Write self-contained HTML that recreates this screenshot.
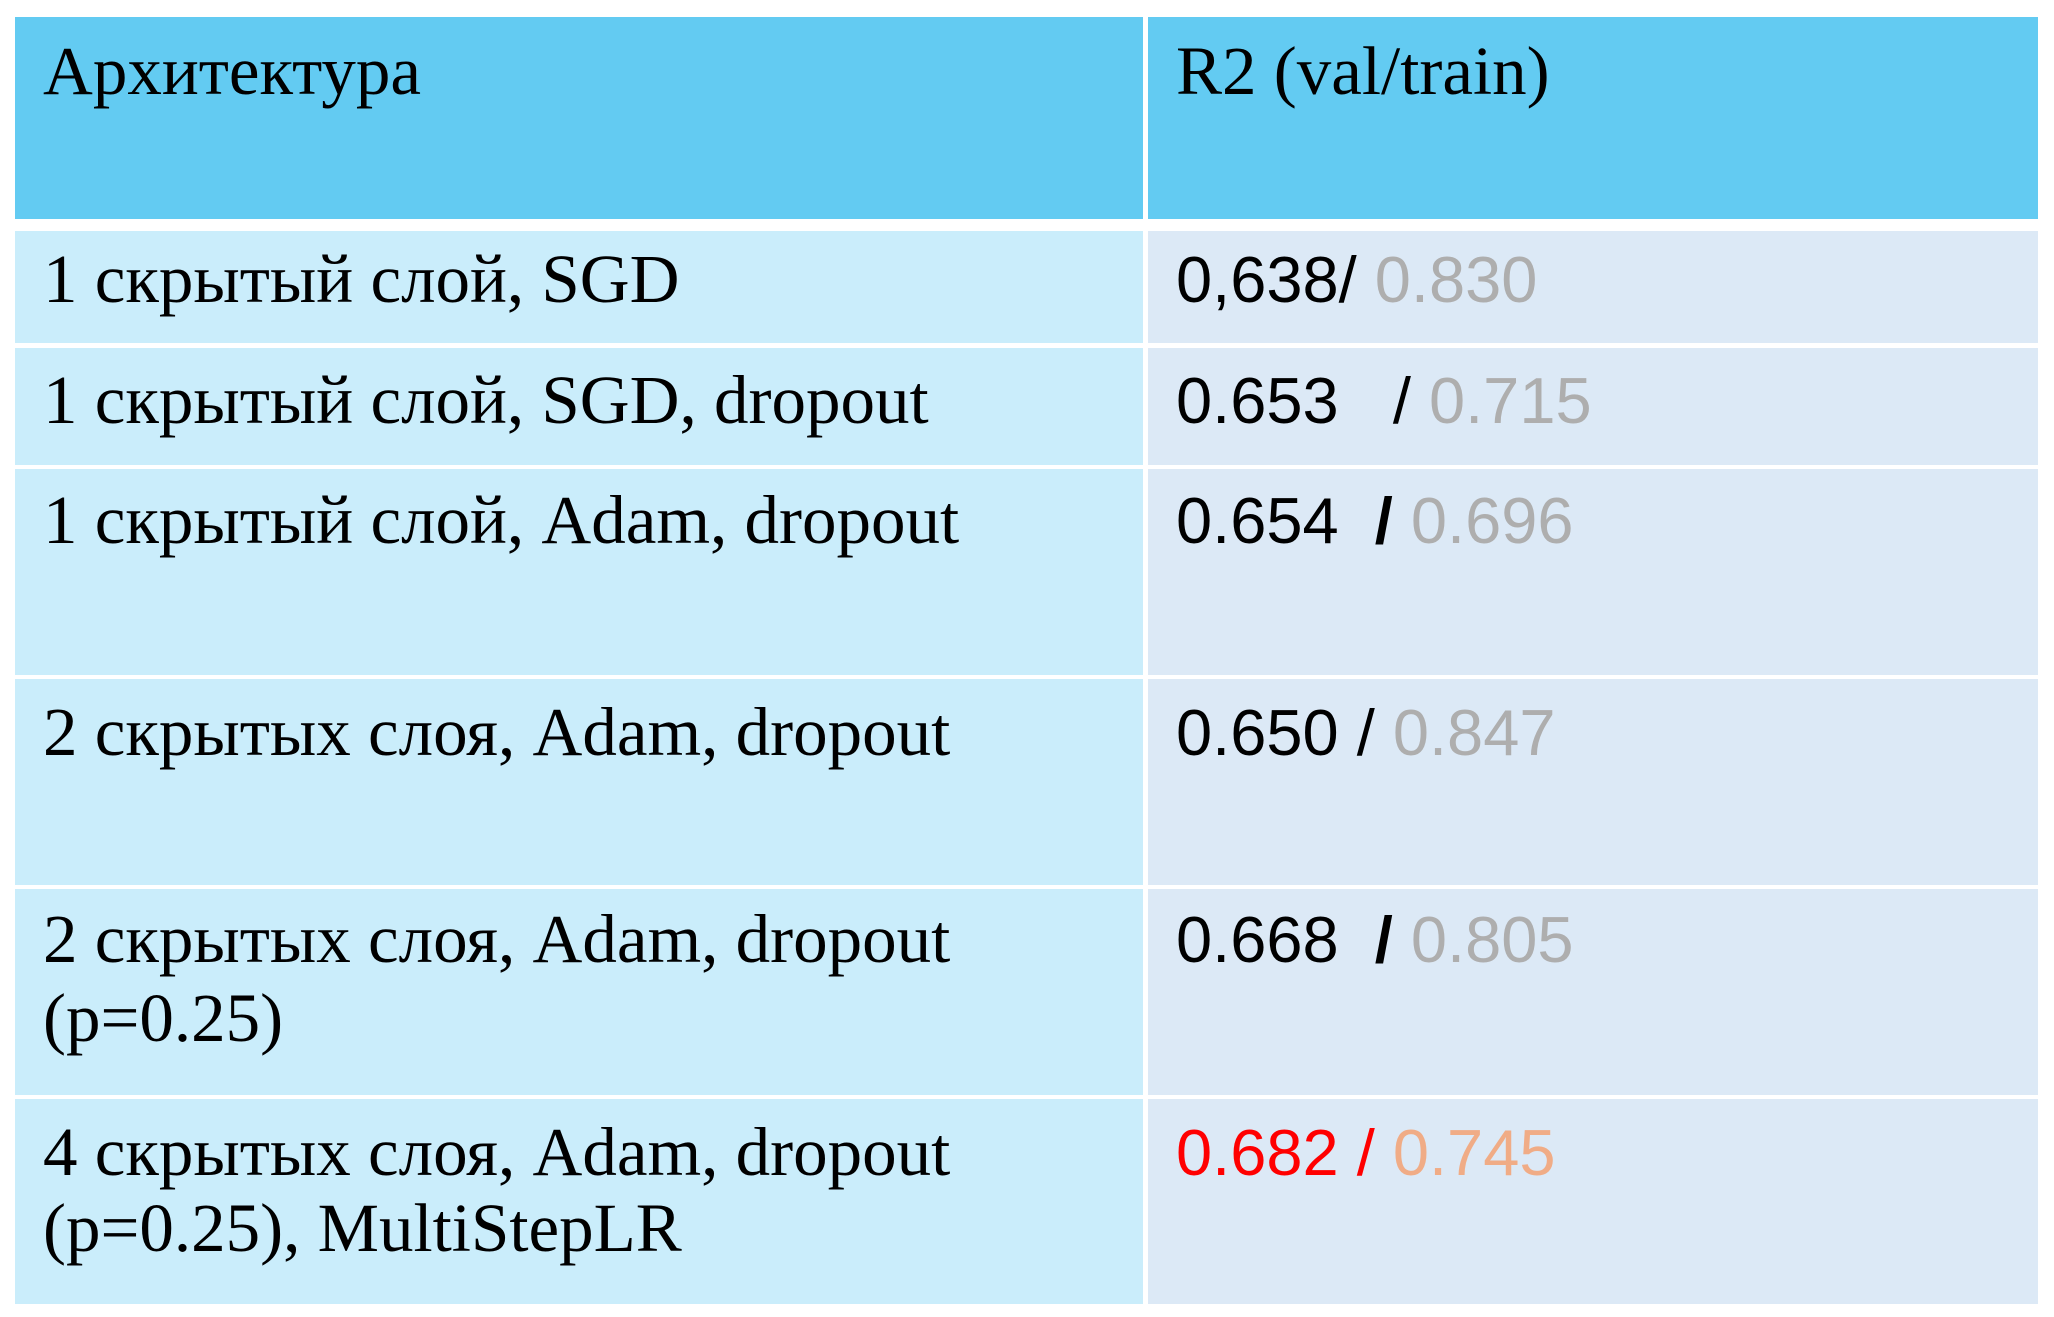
<!DOCTYPE html>
<html><head><meta charset="utf-8"><style>
body{margin:0;width:2054px;height:1317px;background:#fff;position:relative;overflow:hidden}
.c{position:absolute}
.h{background:#63CBF2}
.l{background:#CAEDFB}
.r{background:#DCE9F6}
.s{position:absolute;font-family:"Liberation Serif","Noto Serif CJK SC",serif;font-size:69px;line-height:1;white-space:pre;color:#000}
.a{position:absolute;font-family:"Liberation Sans",Arial,sans-serif;font-size:65px;line-height:1;white-space:pre;color:#000}
.g{color:#AEAEAE}.red{color:#FF0000}.o{color:#F0AC86}
</style></head><body>
<div class="c h" style="left:15px;top:17px;width:1128px;height:202px"></div>
<div class="c h" style="left:1148px;top:17px;width:890px;height:202px"></div>
<div class="c l" style="left:15px;top:231px;width:1128px;height:112px"></div>
<div class="c r" style="left:1148px;top:231px;width:890px;height:112px"></div>
<div class="c l" style="left:15px;top:348px;width:1128px;height:117px"></div>
<div class="c r" style="left:1148px;top:348px;width:890px;height:117px"></div>
<div class="c l" style="left:15px;top:469px;width:1128px;height:206px"></div>
<div class="c r" style="left:1148px;top:469px;width:890px;height:206px"></div>
<div class="c l" style="left:15px;top:679px;width:1128px;height:206px"></div>
<div class="c r" style="left:1148px;top:679px;width:890px;height:206px"></div>
<div class="c l" style="left:15px;top:889px;width:1128px;height:206px"></div>
<div class="c r" style="left:1148px;top:889px;width:890px;height:206px"></div>
<div class="c l" style="left:15px;top:1099px;width:1128px;height:205px"></div>
<div class="c r" style="left:1148px;top:1099px;width:890px;height:205px"></div>

<div class="s" style="left:43px;top:37px">Архитектура</div>
<div class="s" style="left:1176px;top:37px">R2 (val/train)</div>

<div class="s" style="left:43px;top:245px">1 скрытый слой, SGD</div>
<div class="s" style="left:43px;top:366px">1 скрытый слой, SGD, dropout</div>
<div class="s" style="left:43px;top:486px">1 скрытый слой, Adam, dropout</div>
<div class="s" style="left:43px;top:698px">2 скрытых слоя, Adam, dropout</div>
<div class="s" style="left:43px;top:905px">2 скрытых слоя, Adam, dropout</div>
<div class="s" style="left:43px;top:984px">(p=0.25)</div>
<div class="s" style="left:43px;top:1118px">4 скрытых слоя, Adam, dropout</div>
<div class="s" style="left:43px;top:1194px">(p=0.25), MultiStepLR</div>

<div class="a" style="left:1176px;top:247px">0,638/ <span class="g">0.830</span></div>
<div class="a" style="left:1176px;top:368px">0.653   / <span class="g">0.715</span></div>
<div class="a" style="left:1176px;top:488px">0.654  <b>/</b> <span class="g">0.696</span></div>
<div class="a" style="left:1176px;top:700px">0.650 / <span class="g">0.847</span></div>
<div class="a" style="left:1176px;top:907px">0.668  <b>/</b> <span class="g">0.805</span></div>
<div class="a red" style="left:1176px;top:1120px">0.682 / <span class="o">0.745</span></div>
</body></html>
